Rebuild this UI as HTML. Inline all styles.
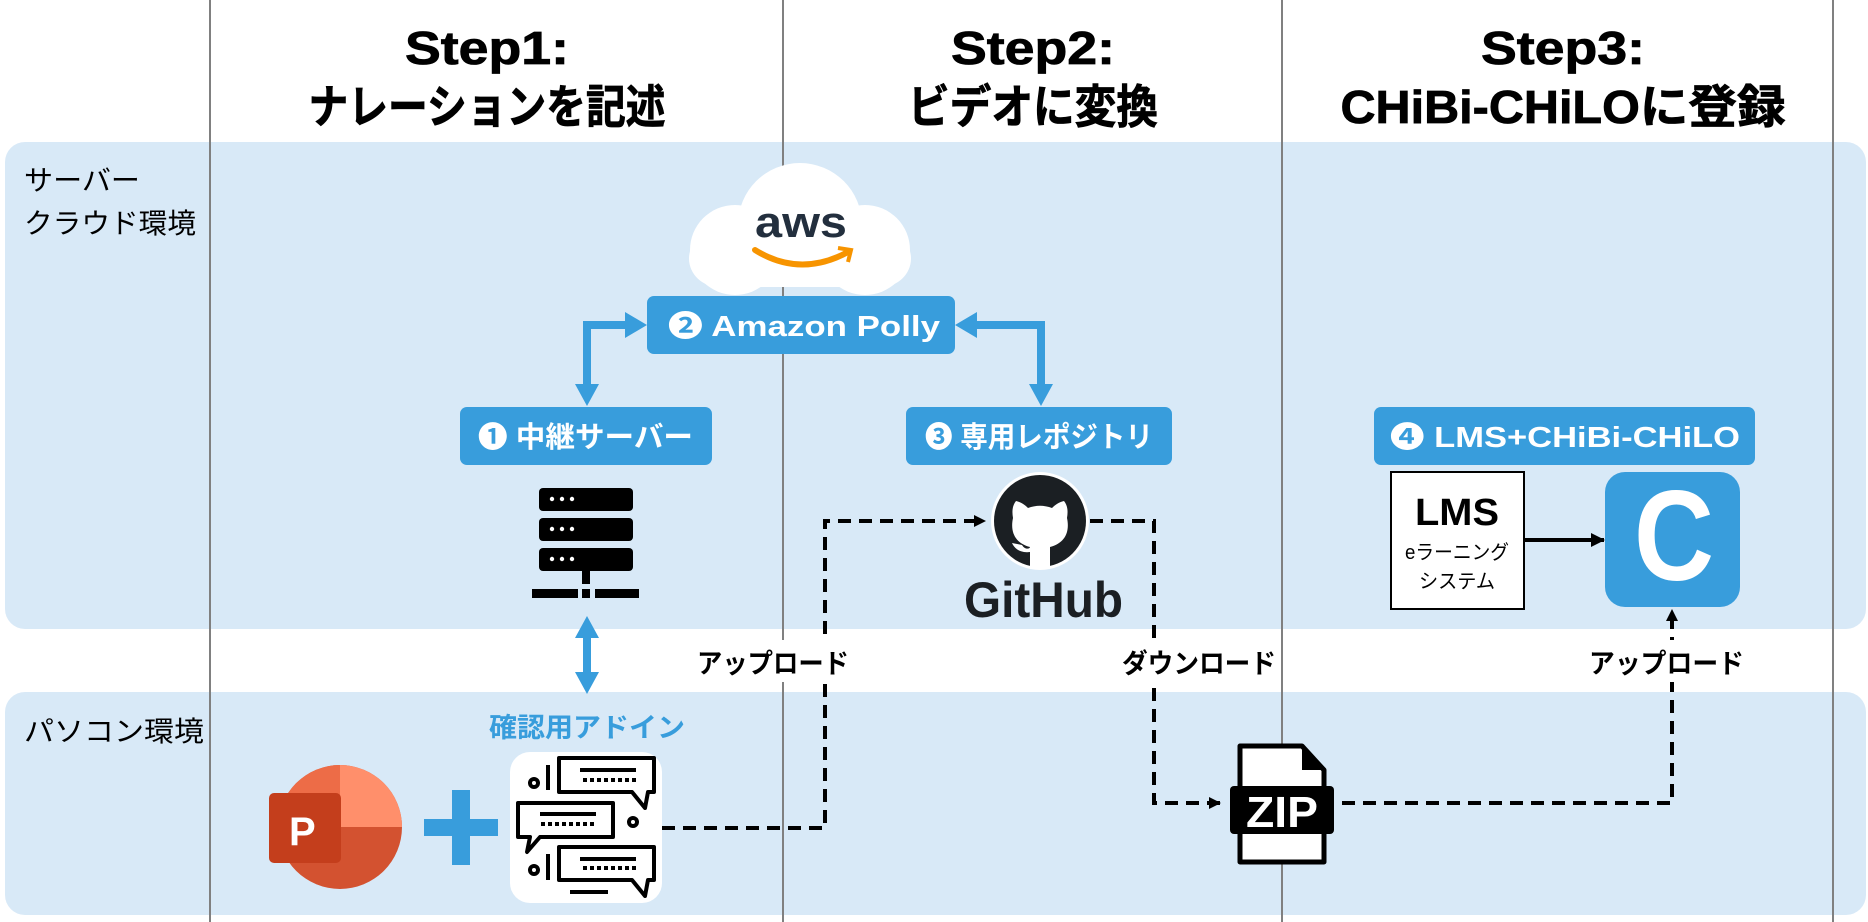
<!DOCTYPE html>
<html><head><meta charset="utf-8">
<style>
html,body{margin:0;padding:0;background:#fff;}
svg{display:block;}
text{font-family:"Liberation Sans","Noto Sans CJK JP",sans-serif;}
</style></head>
<body>
<svg width="1868" height="922" viewBox="0 0 1868 922" xmlns="http://www.w3.org/2000/svg">
<defs>
<marker id="ah" markerWidth="12" markerHeight="12" refX="11" refY="6" orient="auto" markerUnits="userSpaceOnUse">
<path d="M0,0 L12,6 L0,12 z" fill="#000"/>
</marker>
<marker id="ah2" markerWidth="14" markerHeight="14" refX="13" refY="7" orient="auto" markerUnits="userSpaceOnUse">
<path d="M0,0 L14,7 L0,14 z" fill="#000"/>
</marker>
</defs>
<rect x="5" y="142" width="1861" height="487" rx="20" fill="#d8e9f7"/>
<rect x="5" y="692" width="1861" height="223" rx="20" fill="#d8e9f7"/>
<g stroke="#808080" stroke-width="2">
<line x1="210" y1="0" x2="210" y2="922"/>
<line x1="783" y1="0" x2="783" y2="922"/>
<line x1="1282" y1="0" x2="1282" y2="922"/>
<line x1="1833" y1="0" x2="1833" y2="922"/>
</g>
<g font-weight="bold" font-size="46" text-anchor="middle" fill="#000" stroke="#000" stroke-width="0.8">
<text x="487" y="64" textLength="164" lengthAdjust="spacingAndGlyphs">Step1:</text>
<text x="487" y="123" textLength="357" lengthAdjust="spacingAndGlyphs">ナレーションを記述</text>
<text x="1033" y="64" textLength="164" lengthAdjust="spacingAndGlyphs">Step2:</text>
<text x="1033" y="123" textLength="250" lengthAdjust="spacingAndGlyphs">ビデオに変換</text>
<text x="1563" y="64" textLength="164" lengthAdjust="spacingAndGlyphs">Step3:</text>
<text x="1563" y="123" textLength="445" lengthAdjust="spacingAndGlyphs">CHiBi-CHiLOに登録</text>
</g>
<g font-size="28" fill="#000">
<text x="24" y="190" textLength="116" lengthAdjust="spacingAndGlyphs">サーバー</text>
<text x="24" y="233" textLength="172" lengthAdjust="spacingAndGlyphs">クラウド環境</text>
<text x="24" y="741" textLength="180" lengthAdjust="spacingAndGlyphs">パソコン環境</text>
</g>
<g fill="#fff">
<circle cx="800" cy="225" r="62"/>
<circle cx="735" cy="250" r="45"/>
<circle cx="865" cy="250" r="45"/>
<rect x="689" y="230" width="222" height="57" rx="30"/>
</g>
<text x="801" y="237" text-anchor="middle" font-size="44" fill="#232f3e" font-weight="bold" textLength="92" lengthAdjust="spacingAndGlyphs">aws</text>
<path d="M755,250 Q800,278 848,252" stroke="#f79400" stroke-width="6" fill="none" stroke-linecap="round"/>
<path d="M838,248 L851,250 L848,262" stroke="#f79400" stroke-width="4" fill="none"/>
<g fill="#389ddc">
<rect x="647" y="296" width="308" height="58" rx="7"/>
<rect x="460" y="407" width="252" height="58" rx="7"/>
<rect x="906" y="407" width="266" height="58" rx="7"/>
<rect x="1374" y="407" width="381" height="58" rx="7"/>
</g>
<g fill="#fff" font-weight="bold" font-size="29">
<text x="668" y="336" textLength="272" lengthAdjust="spacingAndGlyphs">❷ Amazon Polly</text>
<text x="478" y="447" textLength="215" lengthAdjust="spacingAndGlyphs">❶ 中継サーバー</text>
<text x="925" y="447" textLength="228" lengthAdjust="spacingAndGlyphs">❸ 専用レポジトリ</text>
<text x="1390" y="447" textLength="350" lengthAdjust="spacingAndGlyphs">❹ LMS+CHiBi-CHiLO</text>
</g>
<g fill="#389ddc">
<path d="M583,321 L625,321 L625,312 L647,325 L625,338 L625,329 L591,329 L591,384 L599,384 L587,406 L575,384 L583,384 z"/>
<path d="M1045,321 L977,321 L977,312 L955,325 L977,338 L977,329 L1037,329 L1037,384 L1029,384 L1041,406 L1053,384 L1045,384 z"/>
<path d="M583,638 L575,638 L587,616 L599,638 L591,638 L591,672 L599,672 L587,694 L575,672 L583,672 z"/>
</g>
<g fill="#000">
<rect x="539" y="488" width="94" height="23" rx="4"/>
<rect x="539" y="518" width="94" height="23" rx="4"/>
<rect x="539" y="548" width="94" height="23" rx="4"/>
<rect x="582" y="571" width="8" height="13"/>
<rect x="532" y="589" width="46" height="9"/>
<rect x="582" y="589" width="8" height="9"/>
<rect x="595" y="589" width="44" height="9"/>
</g>
<g fill="#fff">
<circle cx="552" cy="499" r="2.2"/><circle cx="562" cy="499" r="2.2"/><circle cx="572" cy="499" r="2.2"/>
<circle cx="552" cy="529" r="2.2"/><circle cx="562" cy="529" r="2.2"/><circle cx="572" cy="529" r="2.2"/>
<circle cx="552" cy="559" r="2.2"/><circle cx="562" cy="559" r="2.2"/><circle cx="572" cy="559" r="2.2"/>
</g>
<text x="587" y="737" text-anchor="middle" fill="#389ddc" font-weight="bold" font-size="27" textLength="196" lengthAdjust="spacingAndGlyphs">確認用アドイン</text>
<circle cx="340" cy="827" r="62" fill="#d35230"/>
<path d="M340,765 A62,62 0 0 1 402,827 L340,827 z" fill="#ff8f6b"/>
<path d="M340,765 A62,62 0 0 0 278,827 L340,827 z" fill="#ed6c47"/>
<rect x="269" y="793" width="72" height="70" rx="5" fill="#c43e1c"/>
<text x="289" y="845" fill="#fff" font-weight="bold" font-size="40">P</text>
<rect x="452" y="790" width="18" height="75" fill="#389ddc"/>
<rect x="424" y="819" width="74" height="17" fill="#389ddc"/>
<rect x="510" y="752" width="152" height="151" rx="20" fill="#fff"/>
<g fill="none" stroke="#000" stroke-width="4" stroke-linejoin="round">
<path d="M559,758 L654,758 L654,792 L648,792 L645,808 L632,792 L559,792 z"/>
<path d="M518,803 L613,803 L613,837 L540,837 L527,852 L530,837 L518,837 z"/>
<path d="M559,847 L654,847 L654,880 L648,880 L645,896 L632,880 L559,880 z"/>
<circle cx="534" cy="783" r="4"/><circle cx="633" cy="822" r="4"/><circle cx="534" cy="870" r="4"/>
<line x1="548" y1="765" x2="548" y2="790"/><line x1="548" y1="854" x2="548" y2="880"/>
<line x1="580" y1="770" x2="636" y2="770"/><line x1="540" y1="814" x2="596" y2="814"/><line x1="580" y1="859" x2="636" y2="859"/>
<line x1="570" y1="892" x2="608" y2="892"/>
</g>
<g stroke="#000" stroke-width="4" stroke-dasharray="4,3">
<line x1="583" y1="780" x2="636" y2="780"/><line x1="541" y1="824" x2="596" y2="824"/><line x1="583" y1="868" x2="636" y2="868"/>
</g>
<g fill="none" stroke="#000" stroke-width="4" stroke-dasharray="13,8">
<path d="M662,828 L825,828 L825,521 L985,521" marker-end="url(#ah)"/>
<path d="M1090,521 L1154,521 L1154,803 L1220,803" marker-end="url(#ah)"/>
<path d="M1342,803 L1672,803 L1672,610" marker-end="url(#ah)"/>
</g>
<g fill="#fff">
<rect x="693" y="640" width="160" height="42"/>
<rect x="1118" y="640" width="160" height="42"/>
<rect x="1585" y="640" width="162" height="42"/>
</g>
<g font-weight="bold" font-size="27" fill="#000">
<text x="697" y="673" textLength="152" lengthAdjust="spacingAndGlyphs">アップロード</text>
<text x="1122" y="673" textLength="154" lengthAdjust="spacingAndGlyphs">ダウンロード</text>
<text x="1589" y="673" textLength="155" lengthAdjust="spacingAndGlyphs">アップロード</text>
</g>
<circle cx="1040" cy="521" r="49" fill="#fff"/>
<circle cx="1040" cy="521" r="46" fill="#1b1f23"/>
<path d="M1040,569 L1030,569 L1030,552 C1022,553 1015,550 1012,543 L1022,545 C1025,550 1030,549 1030,547 C1015,543 1010,532 1013,518 C1012,512 1012,506 1016,501 C1021,502 1025,505 1028,508 C1036,505 1044,505 1052,508 C1055,505 1059,502 1064,501 C1068,506 1068,512 1067,518 C1070,532 1065,543 1050,547 L1050,569 z" fill="#fff"/>
<text x="964" y="617" font-weight="bold" font-size="50" fill="#1b1f23" textLength="159" lengthAdjust="spacingAndGlyphs">GitHub</text>
<path d="M1240,746 L1302,746 L1324,770 L1324,862 L1240,862 z" fill="#fff" stroke="#000" stroke-width="5" stroke-linejoin="round"/>
<path d="M1302,746 L1302,770 L1324,770 z" fill="#000"/>
<rect x="1230" y="786" width="104" height="48" rx="4" fill="#000"/>
<text x="1282" y="827" text-anchor="middle" font-weight="bold" font-size="44" fill="#fff" textLength="72" lengthAdjust="spacingAndGlyphs">ZIP</text>
<rect x="1391" y="472" width="133" height="137" fill="#fff" stroke="#000" stroke-width="2"/>
<text x="1457" y="525" text-anchor="middle" font-weight="bold" font-size="38" textLength="84" lengthAdjust="spacingAndGlyphs">LMS</text>
<text x="1457" y="559" text-anchor="middle" font-size="20" textLength="104" lengthAdjust="spacingAndGlyphs">eラーニング</text>
<text x="1457" y="588" text-anchor="middle" font-size="20" textLength="76" lengthAdjust="spacingAndGlyphs">システム</text>
<line x1="1525" y1="540" x2="1604" y2="540" stroke="#000" stroke-width="4" marker-end="url(#ah2)"/>
<rect x="1605" y="472" width="135" height="135" rx="20" fill="#389ddc"/>
<text x="1674" y="580" text-anchor="middle" font-weight="bold" font-size="128" fill="#fff" textLength="80" lengthAdjust="spacingAndGlyphs">C</text>
</svg>
</body></html>
